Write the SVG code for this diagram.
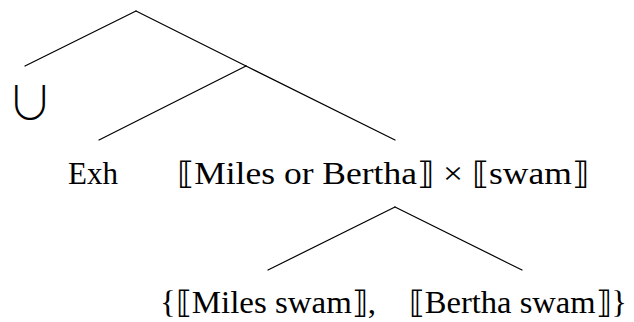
<svg xmlns="http://www.w3.org/2000/svg" width="634" height="322" viewBox="0 0 634 322">
<style>
.e{stroke:#000;stroke-width:1.2;fill:none;stroke-linecap:round}
.t{font-family:"Liberation Serif","DejaVu Serif",serif;font-size:31px;fill:#000;text-anchor:middle}
.u{font-family:"Noto Sans CJK JP","DejaVu Sans",sans-serif;font-size:46px;font-weight:300;fill:#000;text-anchor:middle}
</style>
<rect width="634" height="322" fill="#fff"/>
<g id="connectors">
<line class="e" x1="136" y1="11" x2="25" y2="66"/>
<line class="e" x1="136" y1="11" x2="246" y2="66"/>
<line class="e" x1="246" y1="66" x2="99" y2="140"/>
<line class="e" x1="246" y1="66" x2="395" y2="140"/>
<line class="e" x1="395" y1="207" x2="268" y2="270"/>
<line class="e" x1="395" y1="207" x2="522" y2="270"/>
</g>
<g id="union"><text class="u" x="30" y="119">∪</text></g>
<g id="exh"><text class="t" x="93" y="184">Exh</text></g>
<g id="product"><text class="t" x="383" y="184" textLength="412" lengthAdjust="spacingAndGlyphs">⟦Miles or Bertha⟧ × ⟦swam⟧</text></g>
<g id="set">
<text class="t" x="268" y="313" textLength="216" lengthAdjust="spacingAndGlyphs">{⟦Miles swam⟧,</text>
<text class="t" x="518" y="313" textLength="218" lengthAdjust="spacingAndGlyphs">⟦Bertha swam⟧}</text>
</g>
</svg>
